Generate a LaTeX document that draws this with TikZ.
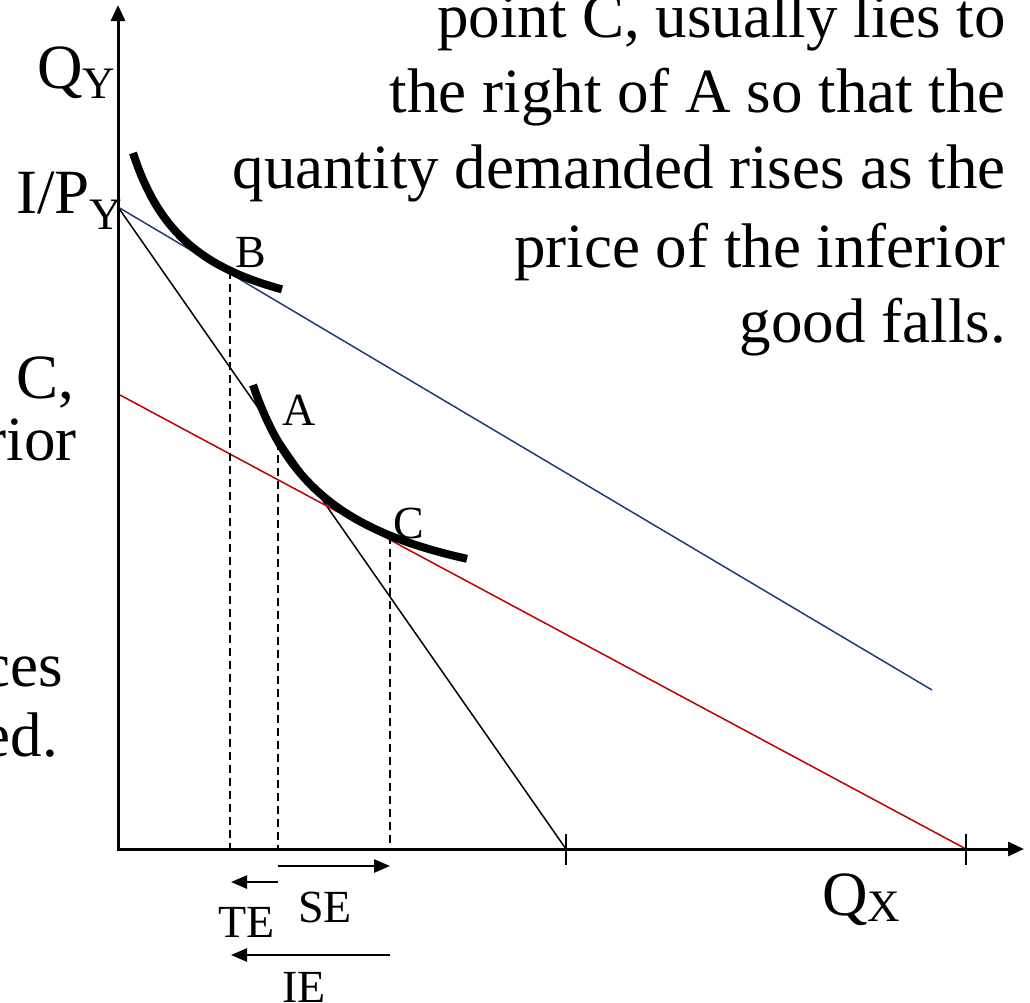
\documentclass[tikz,border=0pt]{standalone}
\usepackage{fontspec}
\setmainfont{Liberation Serif}
\usetikzlibrary{arrows.meta}
\definecolor{budgetblue}{HTML}{1F3B7A}
\definecolor{budgetred}{HTML}{C00000}
\tikzset{
  bigtext/.style={font=\fontsize{63}{75}\selectfont, inner sep=0pt},
  lbl/.style={font=\fontsize{46}{50}\selectfont, inner sep=0pt},
  axisline/.style={line width=3pt, line join=miter},
  tickmark/.style={line width=2.5pt},
  budget/.style={line width=1.5pt},
  icurve/.style={line width=8pt},
  guide/.style={line width=2pt, dash pattern=on 8pt off 5pt},
  effect/.style={line width=2.5pt, -{Triangle[length=16pt,width=13pt]}}
}
\newcommand{\subsc}[2]{\raisebox{-#1pt}{\fontsize{45}{45}\selectfont #2}}
\begin{document}
\begin{tikzpicture}[x=1pt,y=-1pt]
\useasboundingbox (0,0) rectangle (1030,1002);
\clip (0,0) rectangle (1030,1002);

% coordinates
\coordinate (O) at (118,849);
\coordinate (ytip) at (118,5);
\coordinate (xtip) at (1024,849);
\coordinate (I) at (118,207);
\coordinate (blueend) at (932,690);
\coordinate (blackend) at (566,849);
\coordinate (redstart) at (120,395);
\coordinate (redend) at (966,849);
\coordinate (t1a) at (566,834); \coordinate (t1b) at (566,865);
\coordinate (t2a) at (966,834); \coordinate (t2b) at (966,865);
\coordinate (Bpt) at (230,270.6); \coordinate (Bax) at (230,849);
\coordinate (Apt) at (278,441.5); \coordinate (Aax) at (278,849);
\coordinate (Cpt) at (390,535.6); \coordinate (Cax) at (390,849);
\coordinate (se1) at (278,866); \coordinate (se2) at (390,866);
\coordinate (te1) at (278,882); \coordinate (te2) at (231,882);
\coordinate (ie1) at (390,955); \coordinate (ie2) at (231,955);

% budget lines
\draw[budget, budgetblue] (I) -- (blueend);
\draw[budget, black] (I) -- (blackend);
\draw[budget, budgetred] (redstart) -- (redend);

% guides
\draw[guide] (Bpt) -- (Bax);
\draw[guide] (Apt) -- (Aax);
\draw[guide] (Cpt) -- (Cax);

% axes
\draw[axisline, {Triangle[length=16pt,width=14pt]}-{Triangle[length=16pt,width=14pt]}] (ytip) -- (O) -- (xtip);
\draw[tickmark] (t1a) -- (t1b);
\draw[tickmark] (t2a) -- (t2b);

% indifference curves
\draw[icurve] plot[domain=133:282, samples=50] (\x, {347-122.23/((\x-70)/100)});
\draw[icurve] plot[domain=253:467, samples=60] (\x, {624.6-194.11/((\x-172)/100)});

% effect arrows
\draw[effect] (se1) -- (se2);
\draw[effect] (te1) -- (te2);
\draw[effect] (ie1) -- (ie2);

% labels
\node[bigtext, anchor=base west] (qy) at (37,88) {Q\subsc{10}{Y}};
\node[bigtext, anchor=base west] (ipy) at (16,213) {I/P\subsc{16}{Y}};
\node[bigtext, anchor=base west] (qx) at (822,915) {Q\subsc{6}{X}};
\node[lbl, anchor=base west] (lB) at (235,267) {B};
\node[lbl, anchor=base west] (lA) at (282,425) {A};
\node[lbl, anchor=base west] (lC) at (393,538) {C};
\node[lbl, anchor=base west] (lTE) at (218,937) {TE};
\node[lbl, anchor=base west] (lSE) at (298,922) {SE};
\node[lbl, anchor=base west] (lIE) at (282,1002) {IE};

% right paragraph
\node[bigtext, anchor=base east] (r1) at (1006,37) {point C, usually lies to};
\node[bigtext, anchor=base east] (r2) at (1006,112) {the right of A so that the};
\node[bigtext, anchor=base east] (r3) at (1006,188) {quantity demanded rises as the};
\node[bigtext, anchor=base east] (r4) at (1006,267) {price of the inferior};
\node[bigtext, anchor=base east] (r5) at (1006,342) {good falls.};

% left fragments
\node[bigtext, anchor=base east] (l1) at (74,398) {C,};
\node[bigtext, anchor=base east] (l2) at (77,460) {rior};
\node[bigtext, anchor=base east] (l3) at (63,686) {ces};
\node[bigtext, anchor=base east] (l4) at (58,756) {ed.};
\end{tikzpicture}
\end{document}
